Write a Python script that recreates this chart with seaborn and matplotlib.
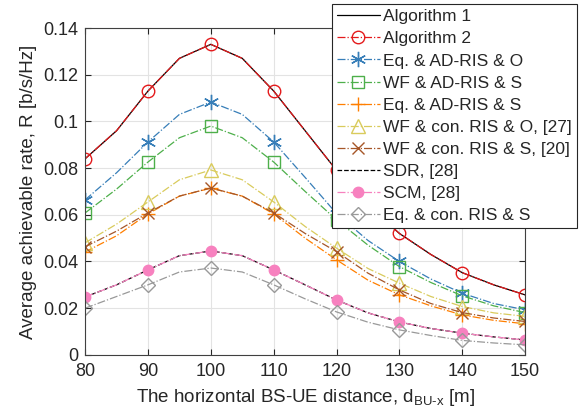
import numpy as np
import pandas as pd
import matplotlib
matplotlib.use("Agg")
import matplotlib.pyplot as plt
import seaborn as sns
from matplotlib.ticker import FuncFormatter

# ---- data ----
x = [80, 85, 90, 95, 100, 105, 110, 115, 120, 125, 130, 135, 140, 145, 150]
alg1 = [0.084, 0.096, 0.113, 0.127, 0.133, 0.127, 0.113, 0.096, 0.079, 0.064, 0.052, 0.043, 0.0352, 0.030, 0.0257]
alg2 = [0.084, 0.096, 0.113, 0.127, 0.133, 0.127, 0.113, 0.096, 0.079, 0.064, 0.052, 0.043, 0.0352, 0.030, 0.0257]
eq_ad_o = [0.0664, 0.078, 0.0912, 0.103, 0.1083, 0.103, 0.0912, 0.076, 0.0605, 0.049, 0.040, 0.0325, 0.0264, 0.022, 0.0193]
wf_ad_s = [0.0608, 0.071, 0.0826, 0.093, 0.098, 0.093, 0.0826, 0.070, 0.0578, 0.047, 0.0378, 0.031, 0.0253, 0.021, 0.0181]
eq_ad_s = [0.0441, 0.051, 0.0604, 0.068, 0.0714, 0.068, 0.0604, 0.050, 0.0407, 0.032, 0.0257, 0.021, 0.0171, 0.0148, 0.0133]
wf_con_o = [0.048, 0.056, 0.0655, 0.075, 0.0792, 0.075, 0.0655, 0.055, 0.0457, 0.037, 0.0307, 0.025, 0.0207, 0.018, 0.0165]
wf_con_s = [0.0463, 0.053, 0.0608, 0.068, 0.0715, 0.068, 0.0608, 0.052, 0.0442, 0.035, 0.0278, 0.022, 0.0181, 0.0158, 0.0143]
sdr = [0.0248, 0.030, 0.0364, 0.0425, 0.0445, 0.0425, 0.0364, 0.030, 0.0235, 0.018, 0.0141, 0.0113, 0.0093, 0.0077, 0.0064]
scm = [0.0248, 0.030, 0.0364, 0.0425, 0.0445, 0.0425, 0.0364, 0.030, 0.0235, 0.018, 0.0141, 0.0113, 0.0093, 0.0077, 0.0064]
eq_con_s = [0.020, 0.025, 0.030, 0.0355, 0.0372, 0.0355, 0.030, 0.024, 0.0184, 0.014, 0.0107, 0.0083, 0.0062, 0.0051, 0.0043]

labels = ["Algorithm 1", "Algorithm 2", "Eq. & AD-RIS & O", "WF & AD-RIS & S",
          "Eq. & AD-RIS & S", "WF & con. RIS & O, [27]", "WF & con. RIS & S, [20]",
          "SDR, [28]", "SCM, [28]", "Eq. & con. RIS & S"]
series = [alg1, alg2, eq_ad_o, wf_ad_s, eq_ad_s, wf_con_o, wf_con_s, sdr, scm, eq_con_s]
xticks = [80, 90, 100, 110, 120, 130, 140, 150]
yticks = [0, 0.02, 0.04, 0.06, 0.08, 0.1, 0.12, 0.14]

# ---- styles ----
ASTER = (6, 2, 0)
styles = [
    dict(color="black", linestyle="-", marker=None, mfc="none", ms=0),
    dict(color="#e41a1c", linestyle="-.", marker="o", mfc="none", ms=9),
    dict(color="#377eb8", linestyle="-.", marker=ASTER, mfc="none", ms=11),
    dict(color="#4daf4a", linestyle="-.", marker="s", mfc="none", ms=9),
    dict(color="#ff7f00", linestyle="-.", marker="+", mfc="none", ms=10),
    dict(color="#d9cb5c", linestyle="-.", marker="^", mfc="none", ms=10),
    dict(color="#a65628", linestyle="-.", marker="x", mfc="none", ms=8),
    dict(color="black", linestyle="--", marker=None, mfc="none", ms=0),
    dict(color="#f781bf", linestyle="-.", marker="o", mfc="#f781bf", ms=7.5),
    dict(color="#999999", linestyle="-.", marker="D", mfc="none", ms=7.5),
]

sns.set_style("ticks")
plt.rcParams["font.family"] = ["Liberation Sans", "DejaVu Sans"]
plt.rcParams["mathtext.fontset"] = "custom"
plt.rcParams["mathtext.rm"] = "Liberation Sans"
plt.rcParams["mathtext.it"] = "Liberation Sans:italic"

fig = plt.figure(figsize=(5.79, 4.18), dpi=100)
ax = fig.add_axes([0.147, 0.151, 0.760, 0.782])

handles = []
for lab, y, st in zip(labels, series, styles):
    df = pd.DataFrame({"x": x, "y": y})
    kw = dict(color=st["color"], linestyle=st["linestyle"], linewidth=0.9)
    if st["marker"]:
        kw.update(marker=st["marker"], markerfacecolor=st["mfc"],
                  markeredgecolor=st["color"], markersize=st["ms"],
                  markeredgewidth=1.0, markevery=2)
    sns.lineplot(data=df, x="x", y="y", ax=ax, legend=False, **kw)
    handles.append(ax.get_lines()[-1])

ax.set_xlim(80, 150)
ax.set_ylim(0, 0.14)
ax.set_xticks(xticks)
ax.set_yticks(yticks)
ax.yaxis.set_major_formatter(FuncFormatter(lambda v, p: f"{v:g}"))
ax.grid(True, color="#e3e3e3", linewidth=0.8)
ax.set_axisbelow(True)
for s in ax.spines.values():
    s.set_color("#404040")
    s.set_linewidth(0.8)
ax.tick_params(direction="in", top=True, right=True, labelsize=13,
               colors="#262626", length=4)
ax.tick_params(axis="x", pad=6)
ax.tick_params(axis="y", pad=5)
ax.set_xlabel(r"The horizontal BS-UE distance, d$_{\mathrm{BU\text{-}x}}$ [m]",
              fontsize=13.5, color="#262626", labelpad=5)
ax.set_ylabel("Average achievable rate, R [b/s/Hz]", fontsize=13.5,
              color="#262626", labelpad=4)

leg = fig.legend(handles=handles, labels=labels, loc="upper left",
                 bbox_to_anchor=(332 / 579, 1 - 4 / 418), fontsize=12.5,
                 frameon=True, fancybox=False, edgecolor="#262626",
                 framealpha=1, handlelength=2.45, handletextpad=0.2,
                 labelspacing=0.4, borderpad=0.3, borderaxespad=0,
                 numpoints=1)
leg.get_frame().set_linewidth(0.8)

fig.savefig("out.png", dpi=100)
